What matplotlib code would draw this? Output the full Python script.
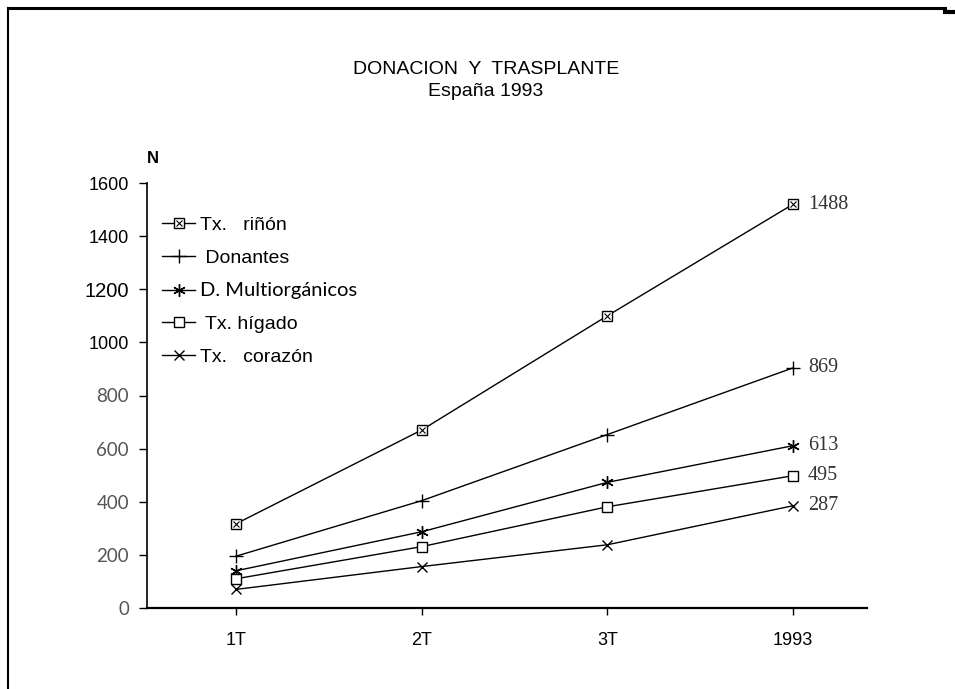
import matplotlib
matplotlib.use("Agg")
import matplotlib.pyplot as plt
from matplotlib.lines import Line2D
from matplotlib.legend_handler import HandlerTuple

# datos
periodos = ["1T", "2T", "3T", "1993"]
tx_rinon = [317, 670, 1100, 1520]
donantes = [195, 404, 653, 904]
d_multiorganicos = [140, 287, 473, 611]
tx_higado = [110, 231, 381, 498]
tx_corazon = [70, 156, 238, 385]
etiquetas_finales = ["1488", "869", "613", "495", "287"]

nombres = ["Tx.   riñón", " Donantes", "D. Multiorgánicos", " Tx. hígado", "Tx.   corazón"]
yticks = [0, 200, 400, 600, 800, 1000, 1200, 1400, 1600]

sans = ["Liberation Sans Narrow", "Liberation Sans", "DejaVu Sans"]
serif_claro = ["Lato", "DejaVu Sans"]

fig = plt.figure(figsize=(9.55, 6.89), dpi=100)
W, H = 955, 689
ax = fig.add_axes([147 / W, (H - 608) / H, 720 / W, 425 / H])

x = range(len(periodos))
series = [tx_rinon, donantes, d_multiorganicos, tx_higado, tx_corazon]
handles = []

h1 = ax.plot(x, tx_rinon, color="black", lw=1, marker="s", ms=6.5, mfc="white", mec="black", mew=1)[0]
h1b = ax.plot(x, tx_rinon, ls="none", marker="x", ms=5, color="black", mew=0.8)[0]
handles.append((h1, h1b))
h2 = ax.plot(x, donantes, color="black", lw=1, marker="+", ms=10, mew=1)[0]
handles.append(h2)
h3 = ax.plot(x, d_multiorganicos, color="black", lw=1, marker=(6, 2, 0), ms=9, mew=1)[0]
handles.append(h3)
h4 = ax.plot(x, tx_higado, color="black", lw=1, marker="s", ms=6.5, mfc="white", mec="black", mew=1)[0]
handles.append(h4)
h5 = ax.plot(x, tx_corazon, color="black", lw=1, marker="x", ms=6.5, mew=1)[0]
handles.append(h5)

for s, lab in zip(series, etiquetas_finales):
    ax.text(3.08, s[-1], lab, va="center", ha="left", fontsize=14.5,
            family=["Liberation Serif", "DejaVu Serif"], color="#333333")

# escalas
ax.set_xlim(-(236 - 147) / 185.7, 3 + (867 - 793) / 185.7)
ax.set_ylim(0, 1600)
ax.set_xticks(list(x))
ax.set_xticklabels(periodos, family=sans, fontsize=13)
ax.set_yticks(yticks)
ax.set_yticklabels([str(v) for v in yticks])
for lab, v in zip(ax.get_yticklabels(), yticks):
    if v >= 1000:
        lab.set_family(sans)
        lab.set_fontsize(14.5 if v == 1200 else 13)
        lab.set_color("black")
    else:
        lab.set_family(serif_claro)
        lab.set_fontsize(13.5)
        lab.set_color("#555555")

ax.spines["top"].set_visible(False)
ax.spines["right"].set_visible(False)
ax.spines["bottom"].set_linewidth(1.6)
ax.spines["left"].set_linewidth(1.2)
ax.tick_params(axis="y", length=6, width=1, pad=7)
ax.tick_params(axis="x", length=5, width=1, pad=12)

ax.text(-0.479, 1694, "N", fontsize=12, fontweight="bold", family=sans, va="center")

leg = ax.legend(handles, nombres, loc="upper left", bbox_to_anchor=(0.021, 0.922),
                frameon=False, fontsize=14, handlelength=1.7, handletextpad=0.25,
                labelspacing=0.8, borderpad=0, borderaxespad=0,
                handler_map={tuple: HandlerTuple(ndivide=1)})
for t in leg.get_texts():
    if "Multi" in t.get_text():
        t.set_family(serif_claro)
        t.set_fontsize(14.5)
    else:
        t.set_family(sans)

# titulo
fig.text(486 / W, 1 - 70 / H, "DONACION  Y  TRASPLANTE", ha="center", va="center",
         fontsize=14, family=sans)
fig.text(486 / W, 1 - 92 / H, "España 1993", ha="center", va="center",
         fontsize=14, family=sans)

# marco de la pagina
fig.add_artist(Line2D([8 / W, 8 / W], [0, 1 - 8 / H], color="black", lw=1.5, transform=fig.transFigure))
fig.add_artist(Line2D([8 / W, 945 / W], [1 - 8 / H, 1 - 8 / H], color="black", lw=2.2, transform=fig.transFigure))
fig.add_artist(Line2D([945 / W, 955 / W], [1 - 12 / H, 1 - 12 / H], color="black", lw=3, transform=fig.transFigure))

fig.savefig("out.png", dpi=100, facecolor="white")
